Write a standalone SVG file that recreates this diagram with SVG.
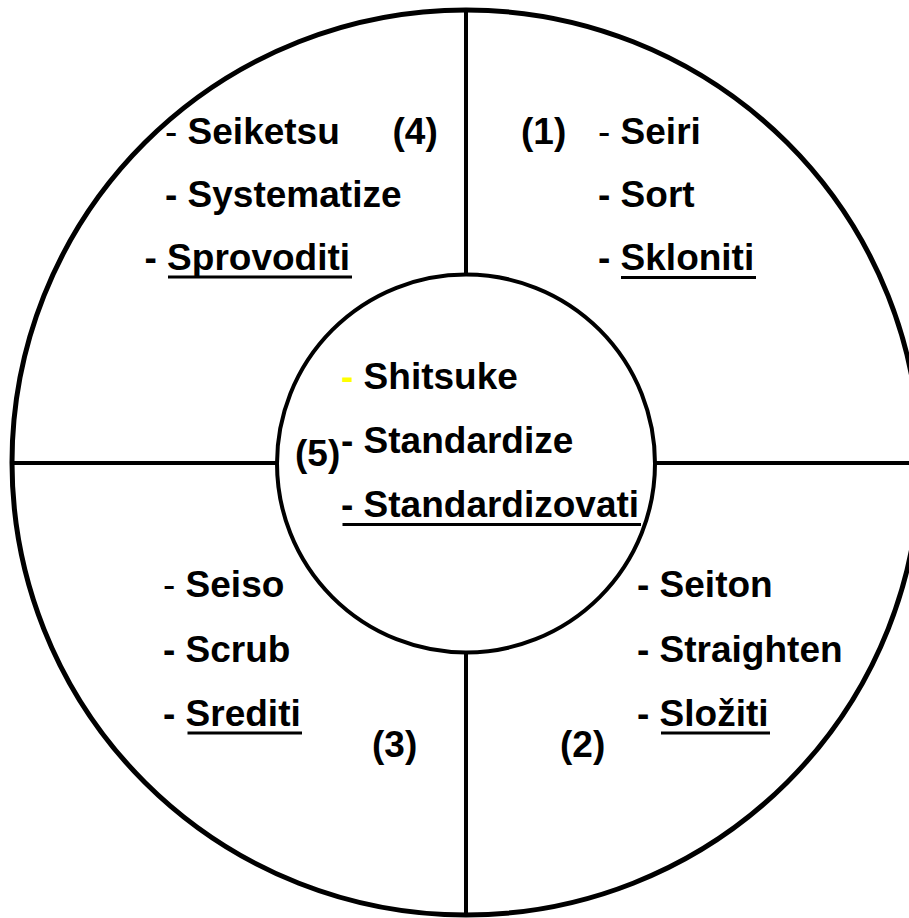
<svg xmlns="http://www.w3.org/2000/svg" width="909" height="918" viewBox="0 0 909 918">
<style>
  text { font-family: "Liberation Sans", Arial, sans-serif; font-size: 37px; font-weight: bold; fill: #000; }
  .thin { font-weight: normal; }
  .yel { fill: #FFFF00; }
  .ul { stroke: #000; stroke-width: 3; }
  .ln { stroke: #000; stroke-width: 4; fill: none; }
</style>
<rect width="909" height="918" fill="#fff"/>
<g id="outer">
  <ellipse cx="466" cy="462.5" rx="454" ry="452.5" fill="none" stroke="#000" stroke-width="5"/>
</g>
<g id="connectors">
  <line class="ln" x1="466" y1="10" x2="466" y2="275"/>
  <line class="ln" x1="466" y1="652" x2="466" y2="915"/>
  <line class="ln" x1="13" y1="463" x2="277" y2="463"/>
  <line class="ln" x1="655" y1="463" x2="909" y2="463"/>
</g>
<g id="center">
  <circle cx="466" cy="463.5" r="189" fill="none" stroke="#000" stroke-width="4"/>
  <text x="341" y="389"><tspan class="yel">-</tspan> Shitsuke</text>
  <text x="341" y="453">- Standardize</text>
  <text x="295" y="466">(5)</text>
  <text x="341" y="517">- Standardizovati</text>
  <line class="ul" x1="342.5" y1="524.5" x2="641" y2="524.5"/>
</g>
<g id="q1">
  <text x="521" y="144">(1)</text>
  <text x="598" y="144"><tspan class="thin">-</tspan> Seiri</text>
  <text x="598" y="207">- Sort</text>
  <text x="598" y="270">- Skloniti</text>
  <line class="ul" x1="621" y1="277.5" x2="756" y2="277.5"/>
</g>
<g id="q2">
  <text x="637" y="597">- Seiton</text>
  <text x="637" y="662">- Straighten</text>
  <text x="637" y="726">- Složiti</text>
  <line class="ul" x1="661" y1="733" x2="770" y2="733"/>
  <text x="560" y="757">(2)</text>
</g>
<g id="q3">
  <text x="163" y="597"><tspan class="thin">-</tspan> Seiso</text>
  <text x="163" y="662">- Scrub</text>
  <text x="163" y="726">- Srediti</text>
  <line class="ul" x1="187.5" y1="733" x2="302" y2="733"/>
  <text x="372" y="757">(3)</text>
</g>
<g id="q4">
  <text x="165" y="144"><tspan class="thin">-</tspan> Seiketsu</text>
  <text x="392.5" y="144">(4)</text>
  <text x="165" y="207">- Systematize</text>
  <text x="144.5" y="270">- Sprovoditi</text>
  <line class="ul" x1="168" y1="277" x2="352" y2="277"/>
</g>
</svg>
